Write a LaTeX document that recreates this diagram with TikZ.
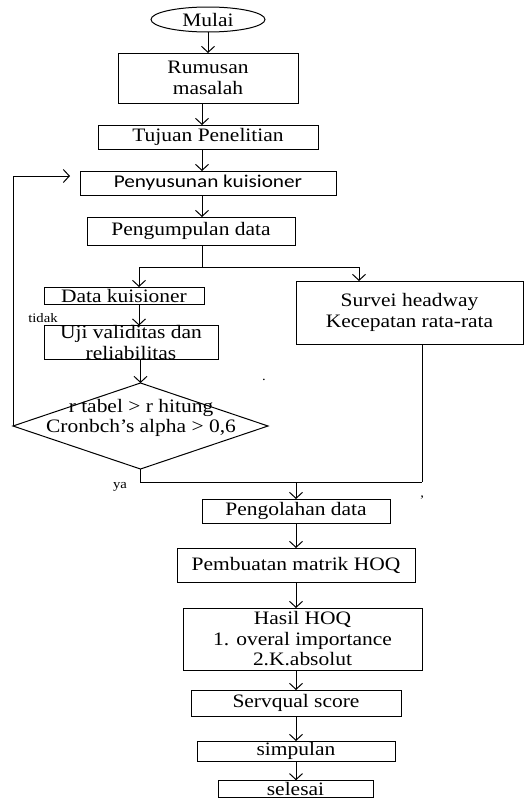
\documentclass[tikz,border=0pt]{standalone}
\usepackage{fontspec}
\setmainfont[FakeStretch=1.13]{Liberation Serif}
\newfontfamily\calfont[FakeStretch=1.18]{Carlito}
\usetikzlibrary{shapes.geometric,arrows.meta}
\begin{document}
\begin{tikzpicture}[x=1pt,y=-1pt,
  every node/.style={inner sep=0pt, outer sep=0pt},
  box/.style={draw, line width=1pt, rectangle, align=center, font=\fontsize{19}{20.5}\selectfont},
  arr/.style={line width=1pt, -{Straight Barb[length=6pt,width=13pt,line width=1pt]}},
  ln/.style={line width=1pt},
  small/.style={font=\fontsize{13}{14}\selectfont}]
\useasboundingbox (0,0) rectangle (525,798);
% nodes
\node[draw, line width=1pt, ellipse, minimum width=114pt, minimum height=25pt, font=\fontsize{19}{20.5}\selectfont] (mulai) at (208,19.5) {Mulai};
\node[box, minimum width=180pt, minimum height=50pt] (rumusan) at (208,78) {Rumusan\\masalah};
\node[box, minimum width=220pt, minimum height=24pt] (tujuan) at (208,137) {Tujuan Penelitian};
\node[box, minimum width=256pt, minimum height=24pt, font=\fontsize{18}{20}\calfont] (penyusunan) at (208,183) {Penyusunan kuisioner};
\node[box, minimum width=208pt, minimum height=28pt] (pengumpulan) at (191,231) {Pengumpulan data};
\node[box, minimum width=160pt, minimum height=17pt] (datak) at (124,295.5) {Data kuisioner};
\node[box, minimum width=174pt, minimum height=33pt] (uji) at (131,342.5) {Uji validitas dan\\reliabilitas};
\node[box, minimum width=227pt, minimum height=63pt] (survei) at (409.5,312.5) {Survei headway\\Kecepatan rata-rata};
\node[draw, line width=1pt, diamond, minimum width=255pt, minimum height=86pt] (dia) at (140.5,426) {};
\node[align=center, font=\fontsize{19}{20.5}\selectfont] (diatext) at (141,418) {r tabel > r hitung\\Cronbch’s alpha > 0,6};
\node[box, minimum width=188pt, minimum height=24pt] (pengolahan) at (296,511) {Pengolahan data};
\node[box, minimum width=238pt, minimum height=34pt] (pembuatan) at (296,565) {Pembuatan matrik HOQ};
\node[box, minimum width=239pt, minimum height=62pt] (hasil) at (302.5,639) {Hasil HOQ\\1. overal importance\\2.K.absolut};
\node[box, minimum width=210pt, minimum height=26pt] (servqual) at (296,703) {Servqual score};
\node[box, minimum width=198pt, minimum height=20pt] (simpulan) at (296,751) {simpulan};
\node[box, minimum width=155pt, minimum height=17.5pt] (selesai) at (295.5,789) {selesai};
\node[small] (tidak) at (43,318) {tidak};
\node[small] (ya) at (120,487) {ya};
\node[small] (dot) at (264,380) {.};
\node[small] (tick) at (422,500) {\char"0027};
% coordinates
\coordinate (bl) at (139,267);
\coordinate (br) at (359,267);
\coordinate (split) at (202,267);
\coordinate (fbtip) at (70,176);
\coordinate (join) at (422,482);
% connectors
\draw[arr] (mulai.south) -- (rumusan.north);
\draw[arr] ([xshift=-6pt]rumusan.south) -- ([xshift=-6pt]tujuan.north);
\draw[arr] ([xshift=-6pt]tujuan.south) -- ([xshift=-6pt]penyusunan.north);
\draw[arr] ([xshift=-6pt]penyusunan.south) -- ([xshift=-6pt]penyusunan.south |- pengumpulan.north);
\draw[ln] (split |- pengumpulan.south) -- (split);
\draw[ln] (bl) -- (br);
\draw[arr] (bl) -- (bl |- datak.north);
\draw[arr] (br) -- (br |- survei.north);
\draw[arr] (bl |- datak.south) -- (bl |- uji.north);
\draw[arr] (dia.north |- uji.south) -- (dia.north);
\draw[arr] (dia.west) |- (fbtip);
\draw[ln] (dia.south) |- (join);
\draw[ln] (join |- survei.south) -- (join);
\draw[arr] (pengolahan.north |- join) -- (pengolahan.north);
\draw[arr] (pengolahan.south) -- (pembuatan.north);
\draw[arr] (pembuatan.south) -- (pembuatan.south |- hasil.north);
\draw[arr] (servqual.north |- hasil.south) -- (servqual.north);
\draw[arr] (servqual.south) -- (simpulan.north);
\draw[arr] (simpulan.south) -- (simpulan.south |- selesai.north);
\end{tikzpicture}
\end{document}
